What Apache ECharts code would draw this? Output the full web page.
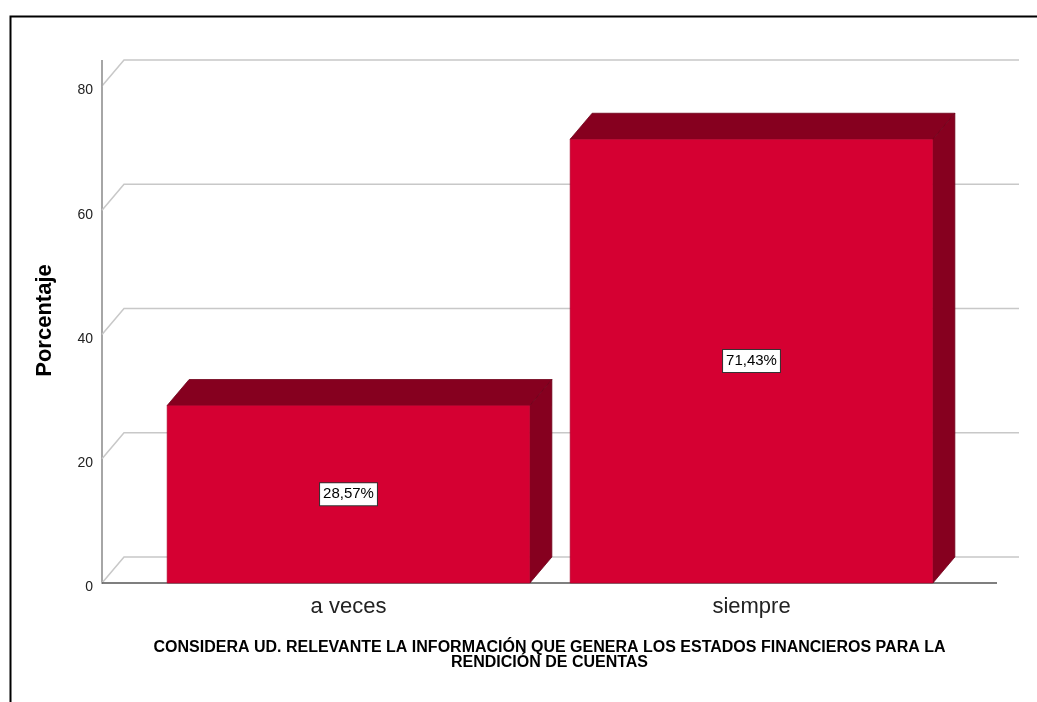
<!DOCTYPE html>
<html>
<head>
<meta charset="utf-8">
<script src="https://cdn.jsdelivr.net/npm/echarts@6/dist/echarts.min.js"></script>
<style>
  html, body { margin: 0; padding: 0; background: #fff; }
  #chart { width: 1037px; height: 702px; }
</style>
</head>
<body>
<div id="chart"></div>
<script>
// Categories and percentages
var categories = ['a veces', 'siempre'];
var percentages = [28.57, 71.43];
var yTicks = [0, 20, 40, 60, 80];
var xTitle = 'CONSIDERA UD. RELEVANTE LA INFORMACIÓN QUE GENERA LOS ESTADOS FINANCIEROS PARA LA\nRENDICIÓN DE CUENTAS';
var yTitle = 'Porcentaje';

// Pseudo-3D depth offset (pixels)
var DX = 22, DY = -26;

var FRONT = '#d50032';
var DARK = '#86001f';
var FONT = "'Liberation Sans', Arial, sans-serif";

function fmt(v) { return v.toFixed(2).replace('.', ',') + '%'; }

var chart = echarts.init(document.getElementById('chart'), null, { renderer: 'canvas' });

var option = {
  animation: false,
  backgroundColor: '#fff',
  textStyle: { fontFamily: FONT },
  grid: [
    { left: 102, right: 40, top: 86, bottom: 119 },
    { left: 147, right: 84, top: 86, bottom: 119 }
  ],
  xAxis: [
    {
      gridIndex: 0, type: 'value', min: 0, max: 1,
      axisLine: { show: false }, axisTick: { show: false },
      axisLabel: { show: false }, splitLine: { show: false },
      name: xTitle, nameLocation: 'middle', nameGap: 57,
      nameTextStyle: {
        fontFamily: FONT, fontWeight: 'bold', fontSize: 16,
        color: '#000', lineHeight: 15
      }
    },
    {
      gridIndex: 1, type: 'category', data: categories,
      axisLine: { show: false }, axisTick: { show: false },
      splitLine: { show: false },
      axisLabel: { fontSize: 22, color: '#222', margin: 13 }
    }
  ],
  yAxis: [
    {
      gridIndex: 0, type: 'value', min: 0, max: 80, interval: 20,
      axisLine: { show: true, lineStyle: { color: '#a6a6a6', width: 2 } },
      axisTick: { show: false }, splitLine: { show: false },
      axisLabel: {
        fontSize: 14, color: '#222', margin: 9,
        verticalAlign: 'top', lineHeight: 9
      },
      name: yTitle, nameLocation: 'middle', nameGap: 46,
      nameTextStyle: {
        fontSize: 22, fontWeight: 'bold', color: '#000',
        padding: [0, 0, 0, 28]
      }
    },
    {
      gridIndex: 1, type: 'value', min: 0, max: 80, interval: 20, show: false
    }
  ],
  series: [
    {
      // back wall gridlines with their depth diagonals
      type: 'custom',
      xAxisIndex: 0, yAxisIndex: 0,
      z: 1,
      data: yTicks.map(function (v) { return [v]; }),
      renderItem: function (params, api) {
        var v = api.value(0);
        var p0 = api.coord([0, v]);
        var p1 = api.coord([1, v]);
        var children = [
          {
            type: 'polyline',
            shape: { points: [[p0[0], p0[1]], [p0[0] + DX, p0[1] + DY], [p1[0] + DX, p1[1] + DY]] },
            style: { stroke: '#c8c8c8', lineWidth: 1.5, fill: null }
          }
        ];
        if (v === 0) {
          children.push({
            type: 'line',
            shape: { x1: p0[0], y1: p0[1], x2: p1[0], y2: p1[1] },
            style: { stroke: '#555', lineWidth: 1.5 }
          });
        }
        if (v === yTicks[yTicks.length - 1]) {
          children.push({
            type: 'line',
            shape: { x1: p0[0], y1: p0[1], x2: p0[0], y2: p0[1] + DY },
            style: { stroke: '#a6a6a6', lineWidth: 2 }
          });
        }
        return { type: 'group', children: children };
      }
    },
    {
      // 3D bars
      type: 'custom',
      xAxisIndex: 1, yAxisIndex: 1,
      z: 5,
      data: percentages.map(function (v, i) { return [i, v]; }),
      renderItem: function (params, api) {
        var idx = api.value(0);
        var v = api.value(1);
        var top = api.coord([idx, v]);
        var base = api.coord([idx, 0]);
        var w = api.size([1, 0])[0] * 0.9;
        var xl = top[0] - w / 2, xr = top[0] + w / 2;
        var yt = top[1], yb = base[1];
        return {
          type: 'group',
          children: [
            {
              type: 'polygon',
              shape: { points: [[xl, yt], [xl + DX, yt + DY], [xr + DX, yt + DY], [xr, yt]] },
              style: { fill: DARK, stroke: '#6e0019', lineWidth: 0.8 }
            },
            {
              type: 'polygon',
              shape: { points: [[xr, yt], [xr + DX, yt + DY], [xr + DX, yb + DY], [xr, yb]] },
              style: { fill: DARK, stroke: '#6e0019', lineWidth: 0.8 }
            },
            {
              type: 'rect',
              shape: { x: xl, y: yt, width: w, height: yb - yt },
              style: { fill: FRONT, stroke: '#a8002a', lineWidth: 0.6 }
            },
            {
              type: 'text',
              x: top[0], y: (yt + yb) / 2,
              style: {
                text: fmt(v),
                fill: '#000',
                font: '15px ' + FONT,
                align: 'center', verticalAlign: 'middle',
                backgroundColor: '#fff',
                borderColor: '#333', borderWidth: 1,
                padding: [4, 3, 3, 3]
              }
            }
          ]
        };
      }
    }
  ],
  graphic: [
    {
      type: 'rect', left: 8, top: 14, z: 100,
      shape: { width: 1100, height: 800 },
      style: { fill: null, stroke: '#000', lineWidth: 2 },
      silent: true
    }
  ]
};

chart.setOption(option);
</script>
</body>
</html>
